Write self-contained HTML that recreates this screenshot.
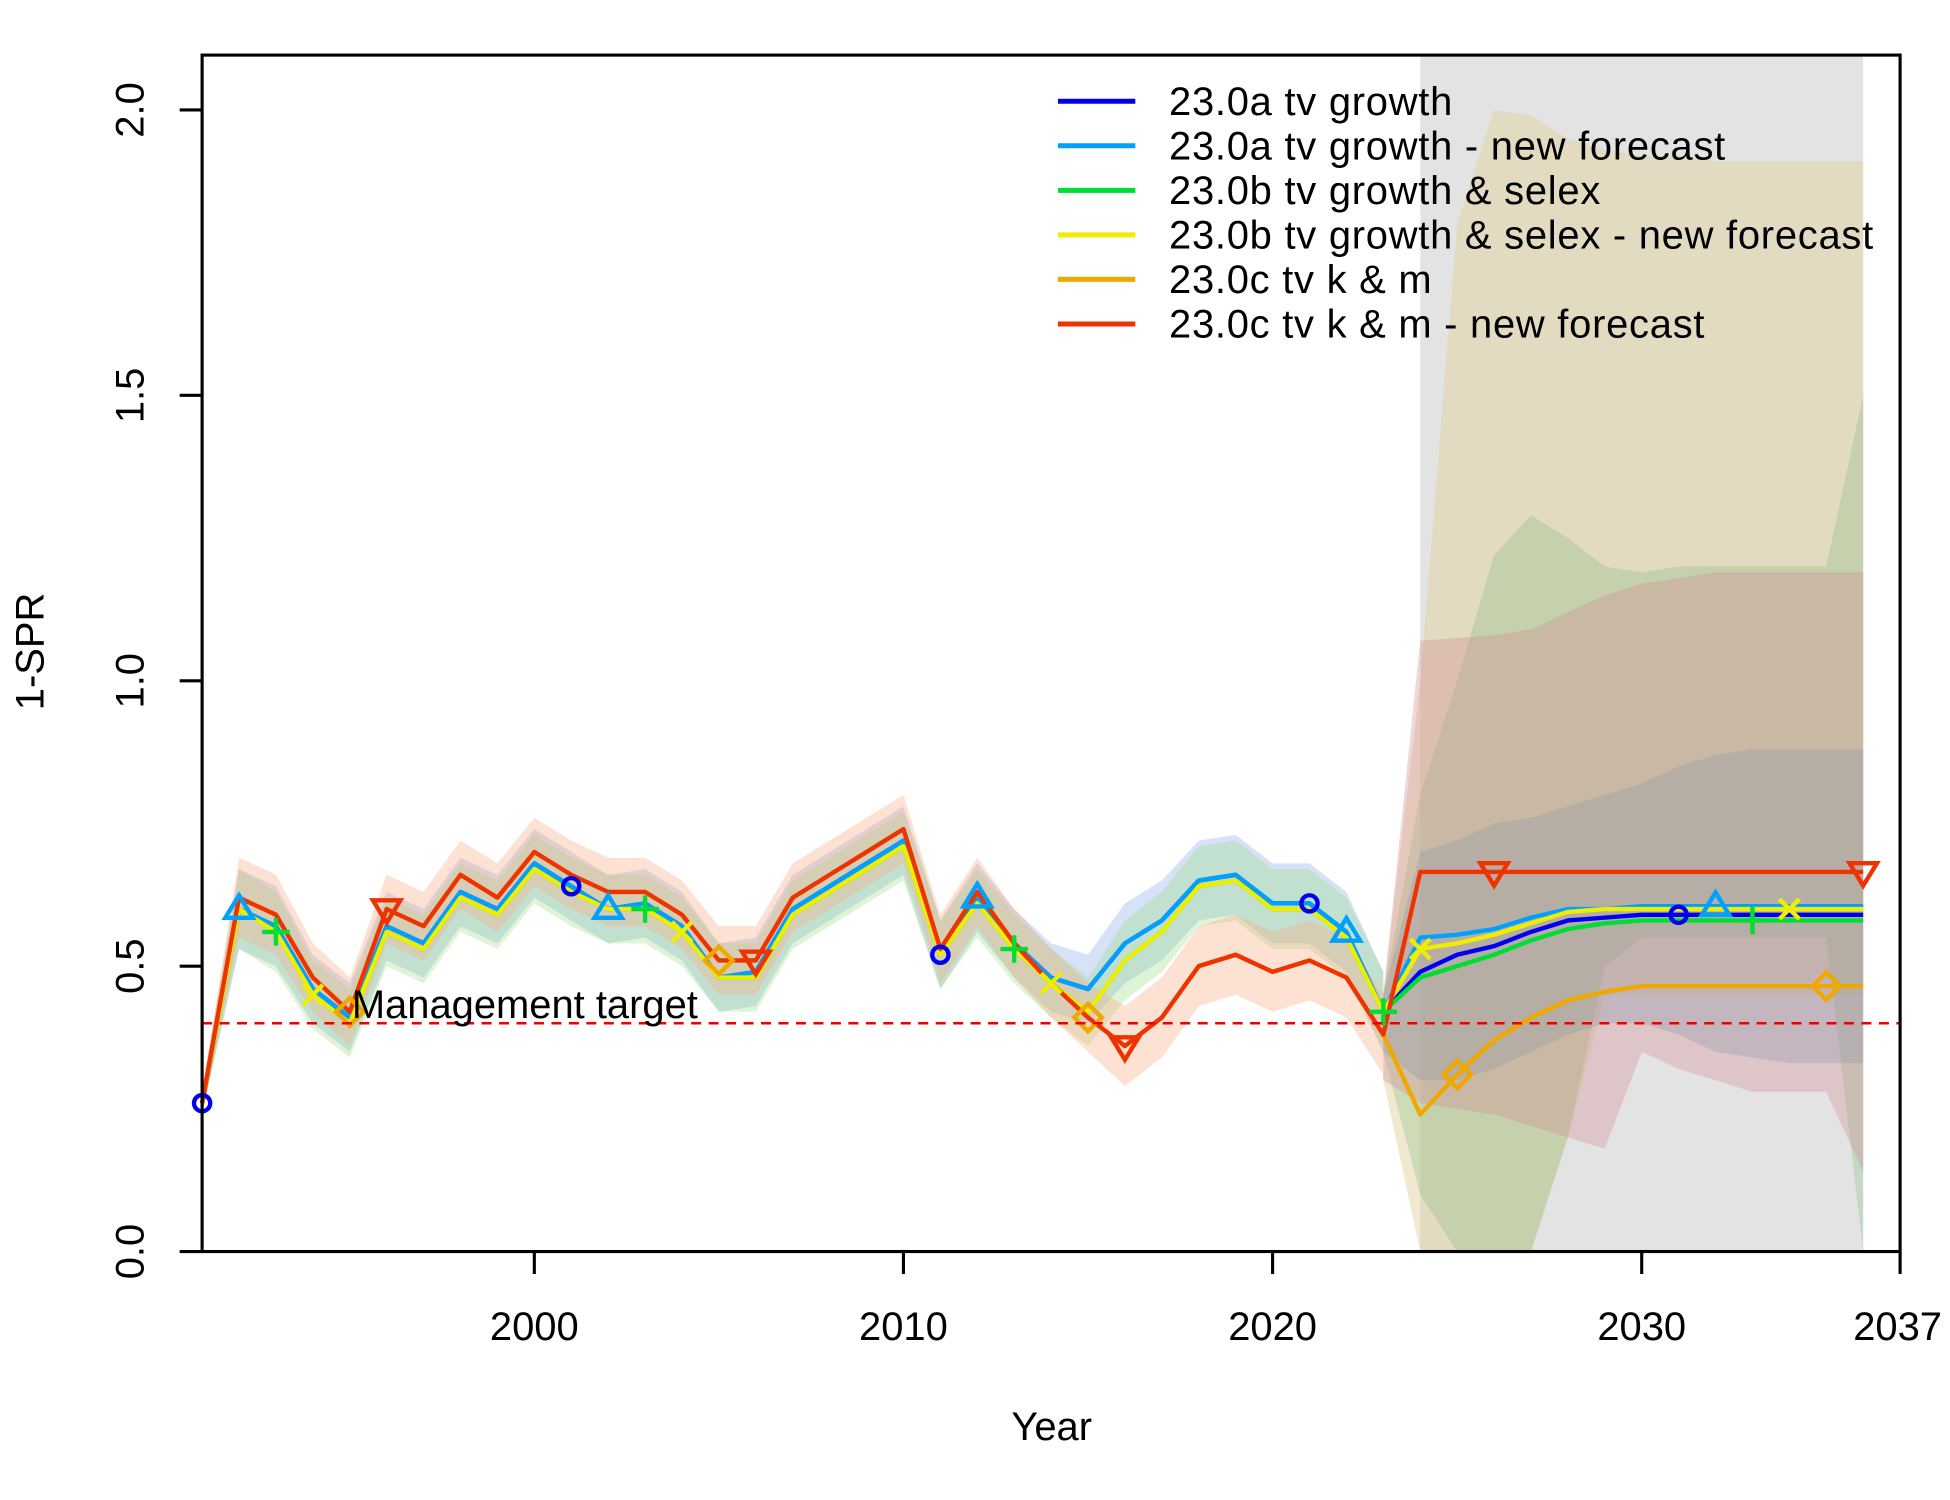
<!DOCTYPE html>
<html><head><meta charset="utf-8"><style>
html,body{margin:0;padding:0;background:#fff;width:1950px;height:1500px;overflow:hidden}
svg text{font-family:"Liberation Sans",Arial,sans-serif;fill:#000}
</style></head><body>
<svg id="chart" width="1950" height="1500" viewBox="0 0 1563 1202" xmlns="http://www.w3.org/2000/svg">
<rect x="0" y="0" width="1563" height="1202" fill="#fff"/>
<g id="bands"></g>
<g id="lines"></g>
<g id="markers"></g>
<g id="axes"></g>
<g id="legend"></g>
</svg>
<script>
const years=[];for(let y=1991;y<=2036;y++)years.push(y);
const hist_red=[0.26,0.62,0.59,0.48,0.42,0.60,0.57,0.66,0.62,0.70,0.66,0.63,0.63,0.59,0.51,0.51,0.62,0.66,0.70,0.74,0.53,0.63,0.54,0.47,0.41,0.36,0.41,0.50,0.52,0.49,0.51,0.48,0.38];
const hist_blue=[0.26,0.60,0.57,0.46,0.41,0.57,0.54,0.63,0.60,0.68,0.64,0.60,0.61,0.57,0.48,0.49,0.60,0.64,0.68,0.72,0.52,0.62,0.54,0.48,0.46,0.54,0.58,0.65,0.66,0.61,0.61,0.56,0.42];
const hist_yel=[0.26,0.60,0.56,0.45,0.40,0.56,0.53,0.62,0.59,0.67,0.63,0.60,0.60,0.56,0.48,0.48,0.59,0.63,0.67,0.71,0.52,0.61,0.53,0.47,0.42,0.51,0.56,0.64,0.65,0.60,0.60,0.55,0.42];
const fc_a=[0.49,0.52,0.535,0.56,0.58,0.585,0.59,0.59,0.59,0.59,0.59,0.59,0.59];
const fc_anew=[0.55,0.555,0.565,0.585,0.60,0.60,0.605,0.605,0.605,0.605,0.605,0.605,0.605];
const fc_b=[0.48,0.50,0.52,0.545,0.565,0.575,0.58,0.58,0.58,0.58,0.58,0.58,0.58];
const fc_bnew=[0.53,0.54,0.555,0.575,0.595,0.60,0.60,0.60,0.60,0.60,0.60,0.60,0.60];
const fc_c=[0.24,0.31,0.37,0.41,0.44,0.455,0.465,0.465,0.465,0.465,0.465,0.465,0.465];
const fc_cnew=[0.665,0.665,0.665,0.665,0.665,0.665,0.665,0.665,0.665,0.665,0.665,0.665,0.665];
const hist_halfwidth=[0.02,0.07,0.07,0.06,0.06,0.06,0.06,0.06,0.06,0.06,0.06,0.06,0.06,0.06,0.06,0.06,0.06,0.06,0.06,0.06,0.06,0.06,0.06,0.06,0.06,0.07,0.07,0.07,0.07,0.07,0.07,0.07,0.07];
const fyears=[2023,2024,2025,2026,2027,2028,2029,2030,2031,2032,2033,2034,2035,2036];
const band_tan_hi=[0.45,1.0,1.8,2.0,1.99,1.95,1.93,1.92,1.92,1.91,1.91,1.91,1.91,1.91];
const band_tan_lo=[0.30,0,0,0,0,0.2,0.45,0.45,0.45,0.45,0.45,0.45,0.45,0.45];
const band_red_hi=[0.45,1.07,1.075,1.08,1.09,1.12,1.15,1.17,1.18,1.19,1.19,1.19,1.19,1.19];
const band_red_lo=[0.30,0.26,0.25,0.24,0.22,0.20,0.18,0.35,0.32,0.30,0.28,0.28,0.28,0.14];
const band_grn_hi=[0.45,0.80,1.0,1.22,1.29,1.25,1.2,1.19,1.2,1.2,1.2,1.2,1.2,1.5];
const band_grn_lo=[0.35,0.1,0,0,0,0.2,0.5,0.55,0.55,0.55,0.55,0.55,0.55,0];
const band_blu_hi=[0.45,0.70,0.72,0.75,0.76,0.78,0.80,0.82,0.85,0.87,0.88,0.88,0.88,0.88];
const band_blu_lo=[0.35,0.30,0.30,0.32,0.35,0.38,0.40,0.40,0.38,0.35,0.34,0.33,0.33,0.33];
const xticks=[2000,2010,2020,2030,2037];
const yticks=[0,0.5,1.0,1.5,2.0];
const legendLabels=["23.0a tv growth","23.0a tv growth - new forecast","23.0b tv growth & selex","23.0b tv growth & selex - new forecast","23.0c tv k & m","23.0c tv k & m - new forecast"];

const X0=162,X1=1523,Y0=1003,Y1=44;
const sx=v=>X0+(v-1991)*(X1-X0)/(2037-1991);
const sy=v=>Y0-v*457.5;
const NS='http://www.w3.org/2000/svg';
function mk(tag,attrs,parent){const e=document.createElementNS(NS,tag);for(const k in attrs)e.setAttribute(k,attrs[k]);parent.appendChild(e);return e;}
const G=id=>document.getElementById(id);

const shade=mk('rect',{x:sx(2024),y:Y1,width:sx(2036)-sx(2024),height:Y0-Y1,fill:'#e3e3e3'},G('bands'));



function band(xs,lo,hi,fill,name){
  let d='M'+xs.map((y,i)=>sx(y)+','+sy(hi[i])).join('L');
  d+='L'+xs.map((y,i)=>sx(y)+','+sy(lo[i])).reverse().join('L')+'Z';
  const p=mk('path',{d:d,fill:fill,stroke:'none'},G('bands'));
  
  
}
const hy=years.slice(0,33);
band(hy,hist_blue.map((v,i)=>v-hist_halfwidth[i]),hist_blue.map((v,i)=>v+hist_halfwidth[i]),'rgba(120,160,230,0.3)','band-hist-a');
band(hy,hist_yel.map((v,i)=>v-hist_halfwidth[i]),hist_yel.map((v,i)=>v+hist_halfwidth[i]),'rgba(150,220,120,0.3)','band-hist-b');
band(hy,hist_red.map((v,i)=>v-hist_halfwidth[i]),hist_red.map((v,i)=>v+hist_halfwidth[i]),'rgba(250,170,130,0.35)','band-hist-c');
band(fyears,band_tan_lo,band_tan_hi,'rgba(225,210,160,0.5)','band-forecast-b-new');
band(fyears,band_grn_lo,band_grn_hi,'rgba(130,190,130,0.3)','band-forecast-b');
band(fyears,band_red_lo,band_red_hi,'rgba(210,140,150,0.35)','band-forecast-c-new');
band(fyears,band_blu_lo,band_blu_hi,'rgba(140,150,170,0.3)','band-forecast-a-new');

const series=[
 {c:'#0000ee',h:hist_blue,f:fc_a,m:'circle',my:[1991,2001,2011,2021,2031]},
 {c:'#00a0ff',h:hist_blue,f:fc_anew,m:'tri',my:[1992,2002,2012,2022,2032]},
 {c:'#00dd33',h:hist_yel,f:fc_b,m:'plus',my:[1993,2003,2013,2023,2033]},
 {c:'#eeee00',h:hist_yel,f:fc_bnew,m:'x',my:[1994,2004,2014,2024,2034]},
 {c:'#f0a800',h:hist_red,f:fc_c,m:'diamond',my:[1995,2005,2015,2025,2035]},
 {c:'#ee3300',h:hist_red,f:fc_cnew,m:'dtri',my:[1996,2006,2016,2026,2036]}
];
series.forEach((s,si)=>{
  const vals=s.h.concat(s.f);
  const p=mk('polyline',{points:years.map((y,i)=>sx(y)+','+sy(vals[i])).join(' '),fill:'none',stroke:s.c,'stroke-width':3.5,'stroke-linejoin':'round'},G('lines'));
  
  
  s.my.forEach(y=>{
    const x=sx(y),v=sy(vals[y-1991]);let e;
    const st={fill:'none',stroke:s.c,'stroke-width':3.5};
    if(s.m==='circle')e=mk('circle',Object.assign({cx:x,cy:v,r:6.5},st),G('markers'));
    else if(s.m==='tri')e=mk('path',Object.assign({d:`M${x},${v-11}L${x+11},${v+7}L${x-11},${v+7}Z`},st),G('markers'));
    else if(s.m==='dtri')e=mk('path',Object.assign({d:`M${x},${v+11}L${x+11},${v-7}L${x-11},${v-7}Z`},st),G('markers'));
    else if(s.m==='plus')e=mk('path',Object.assign({d:`M${x-11},${v}H${x+11}M${x},${v-11}V${v+11}`},st),G('markers'));
    else if(s.m==='x')e=mk('path',Object.assign({d:`M${x-8},${v-8}L${x+8},${v+8}M${x+8},${v-8}L${x-8},${v+8}`},st),G('markers'));
    else e=mk('path',Object.assign({d:`M${x},${v-11}L${x+11},${v}L${x},${v+11}L${x-11},${v}Z`},st),G('markers'));
    
    
  });
});

const tl=mk('line',{x1:X0,x2:X1,y1:sy(0.4),y2:sy(0.4),stroke:'#ee0000','stroke-width':2,'stroke-dasharray':'8,6'},G('axes'));


const tt=mk('text',{x:282,y:816,'font-size':32},G('axes'));tt.textContent='Management target';



const fr=mk('rect',{x:X0,y:Y1,width:X1-X0,height:Y0-Y1,fill:'none',stroke:'#000','stroke-width':2.5},G('axes'));


xticks.forEach(t=>{
  const l=mk('line',{x1:sx(t),x2:sx(t),y1:Y0,y2:Y0+18,stroke:'#000','stroke-width':2.5},G('axes'));
  
  
  const tx=mk('text',{x:sx(t)-(t===2037?2:0),y:1074,'font-size':32,'text-anchor':'middle'},G('axes'));tx.textContent=t;
  
  
});
yticks.forEach(t=>{
  const l=mk('line',{x1:X0-18,x2:X0,y1:sy(t),y2:sy(t),stroke:'#000','stroke-width':2.5},G('axes'));
  
  
  const tx=mk('text',{x:0,y:0,'font-size':32,'text-anchor':'middle',transform:`translate(115,${sy(t)}) rotate(-90)`},G('axes'));tx.textContent=t.toFixed(1);
  
  
});
const xt=mk('text',{x:843,y:1154,'font-size':32,'text-anchor':'middle'},G('axes'));xt.textContent='Year';


const yt=mk('text',{x:0,y:0,'font-size':32,'text-anchor':'middle',transform:'translate(35,522) rotate(-90)'},G('axes'));yt.textContent='1-SPR';



legendLabels.forEach((lab,i)=>{
  const y=81+i*35.7;
  const l=mk('line',{x1:848,x2:910,y1:y,y2:y,stroke:series[i].c,'stroke-width':4},G('legend'));
  
  
  const t=mk('text',{x:937,y:y+11,'font-size':32,'letter-spacing':'0.6'},G('legend'));t.textContent=lab;
  
  
});
</script>
</body></html>
